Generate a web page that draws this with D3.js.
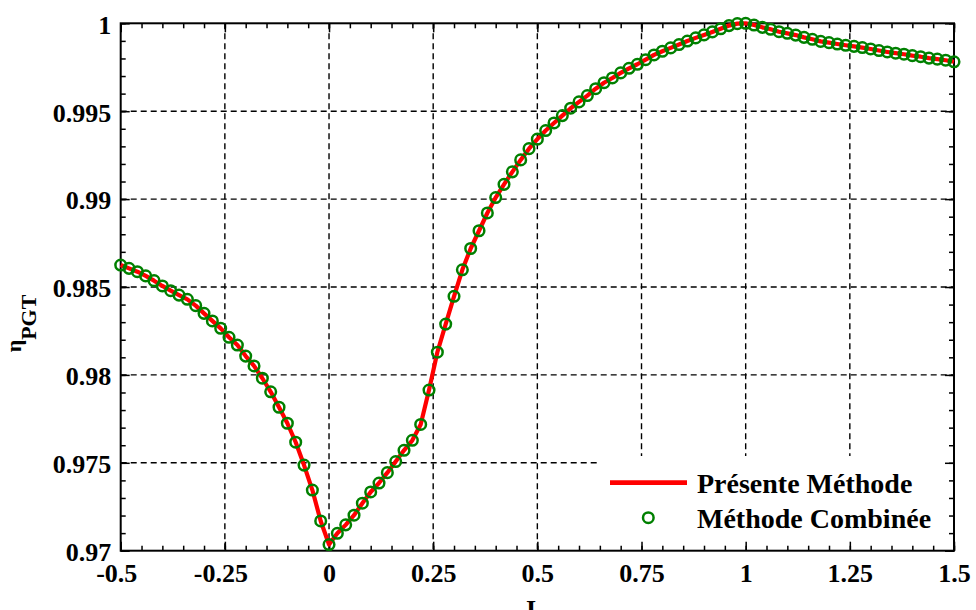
<!DOCTYPE html>
<html><head><meta charset="utf-8">
<script src="https://cdn.jsdelivr.net/npm/d3@7"></script>
<style>body{margin:0;background:#fff;} svg{display:block;} svg text{font-family:"Liberation Serif","Times New Roman",serif !important;font-weight:bold;fill:#000;}</style>
</head><body><svg id="chart" width="976" height="610"></svg>
<script>
// ---- data ----
const xValues = [
 -0.5,-0.48,-0.46,-0.44,-0.42,-0.4,-0.38,-0.36,-0.34,-0.32,-0.3,-0.28,-0.26,-0.24,-0.22,-0.2,-0.18,-0.16,-0.14,-0.12,-0.1,-0.08,-0.06,-0.04,-0.02,
 0,0.02,0.04,0.06,0.08,0.1,0.12,0.14,0.16,0.18,0.2,0.22,0.24,0.26,0.28,0.3,0.32,0.34,0.36,0.38,0.4,0.42,0.44,0.46,0.48,
 0.5,0.52,0.54,0.56,0.58,0.6,0.62,0.64,0.66,0.68,0.7,0.72,0.74,0.76,0.78,0.8,0.82,0.84,0.86,0.88,0.9,0.92,0.94,0.96,0.98,
 1,1.02,1.04,1.06,1.08,1.1,1.12,1.14,1.16,1.18,1.2,1.22,1.24,1.26,1.28,1.3,1.32,1.34,1.36,1.38,1.4,1.42,1.44,1.46,1.48,1.5
];
const presenteMethode = [
 0.98625,0.98606,0.98587,0.98563,0.98536,0.98506,0.98479,0.98454,0.98430,0.98394,0.98350,0.98307,0.98265,0.98214,0.98170,0.98107,0.98051,0.97981,0.97904,0.97816,0.97725,0.97617,0.97487,0.97345,0.97169,
 0.97035,0.97099,0.97147,0.97202,0.97270,0.97334,0.97385,0.97444,0.97507,0.97571,0.97628,0.97718,0.97914,0.98129,0.98289,0.98447,0.98598,0.98719,0.98820,0.98921,0.99009,0.99084,0.99155,0.99223,0.99287,
 0.99341,0.99390,0.99433,0.99475,0.99517,0.99553,0.99589,0.99628,0.99662,0.99689,0.99718,0.99744,0.99767,0.99793,0.99820,0.99841,0.99860,0.99879,0.99899,0.99917,0.99934,0.99951,0.99969,0.99987,0.99998,
 1.00000,0.99990,0.99977,0.99966,0.99952,0.99943,0.99933,0.99920,0.99909,0.99897,0.99890,0.99882,0.99875,0.99869,0.99862,0.99854,0.99845,0.99837,0.99830,0.99824,0.99816,0.99810,0.99802,0.99796,0.99790,0.99781
];
const methodeCombinee = [
 0.98625,0.98606,0.98587,0.98563,0.98536,0.98506,0.98479,0.98454,0.98430,0.98394,0.98350,0.98307,0.98265,0.98214,0.98170,0.98107,0.98051,0.97981,0.97904,0.97816,0.97725,0.97617,0.97487,0.97345,0.97169,
 0.97035,0.97099,0.97147,0.97202,0.97270,0.97334,0.97385,0.97444,0.97507,0.97571,0.97628,0.97718,0.97914,0.98129,0.98289,0.98447,0.98598,0.98719,0.98820,0.98921,0.99009,0.99084,0.99155,0.99223,0.99287,
 0.99341,0.99390,0.99433,0.99475,0.99517,0.99553,0.99589,0.99628,0.99662,0.99689,0.99718,0.99744,0.99767,0.99793,0.99820,0.99841,0.99860,0.99879,0.99899,0.99917,0.99934,0.99951,0.99969,0.99987,0.99998,
 1.00000,0.99990,0.99977,0.99966,0.99952,0.99943,0.99933,0.99920,0.99909,0.99897,0.99890,0.99882,0.99875,0.99869,0.99862,0.99854,0.99845,0.99837,0.99830,0.99824,0.99816,0.99810,0.99802,0.99796,0.99790,0.99781
];
const xTickValues = [-0.5,-0.25,0,0.25,0.5,0.75,1,1.25,1.5];
const xTickLabels = ["-0.5","-0.25","0","0.25","0.5","0.75","1","1.25","1.5"];
const yTickValues = [0.97,0.975,0.98,0.985,0.99,0.995,1];
const yTickLabels = ["0.97","0.975","0.98","0.985","0.99","0.995","1"];
const legendLabels = ["Présente Méthode","Méthode Combinée"];
const xAxisTitle = "I";
const yAxisTitle = ["η","PGT"];

// ---- layout ----
const L = 120.7, R = 954, T = 23.3, B = 550.7;
const svg = d3.select("#chart");
svg.append("rect").attr("width",976).attr("height",610).attr("fill","#fff");

const x = d3.scaleLinear().domain([-0.5,1.5]).range([L,R]);
const y = d3.scaleLinear().domain([0.97,1]).range([B,T]);

// grid
const gridX = xTickValues.slice(1,-1), gridY = yTickValues.slice(1,-1);
const grid = svg.append("g").attr("stroke","#000").attr("stroke-width",1.4).attr("stroke-dasharray","6,4");
grid.selectAll("line.gx").data(gridX).join("line").attr("class","gx")
  .attr("x1",d=>x(d)).attr("x2",d=>x(d)).attr("y1",T).attr("y2",B);
grid.selectAll("line.gy").data(gridY).join("line").attr("class","gy")
  .attr("x1",L).attr("x2",R).attr("y1",d=>y(d)).attr("y2",d=>y(d));

// legend background (hides grid)
svg.append("rect").attr("x",597).attr("y",456).attr("width",R-597).attr("height",B-456).attr("fill","#fff");

// minor / major ticks on all four sides (inward)
const xMinor = d3.range(-0.5,1.5001,0.05), yMinor = d3.range(0.97,1.00001,0.001);
function styleAxis(g){ g.select(".domain").remove(); g.selectAll(".tick line").attr("stroke","#000").attr("stroke-width",1.5); }
svg.append("g").attr("transform",`translate(0,${B})`).call(d3.axisBottom(x).tickValues(xMinor).tickSize(-5).tickFormat("")).call(styleAxis);
svg.append("g").attr("transform",`translate(0,${T})`).call(d3.axisTop(x).tickValues(xMinor).tickSize(-5).tickFormat("")).call(styleAxis);
svg.append("g").attr("transform",`translate(${L},0)`).call(d3.axisLeft(y).tickValues(yMinor).tickSize(-5).tickFormat("")).call(styleAxis);
svg.append("g").attr("transform",`translate(${R},0)`).call(d3.axisRight(y).tickValues(yMinor).tickSize(-5).tickFormat("")).call(styleAxis);

const xAx = svg.append("g").attr("transform",`translate(0,${B})`)
  .call(d3.axisBottom(x).tickValues(xTickValues).tickSize(-9).tickPadding(12.5).tickFormat((d,i)=>xTickLabels[i])).call(styleAxis);
xAx.selectAll("text").attr("font-size",26).attr("dx",d=>d<0?"-0.17em":0);
const yAx = svg.append("g").attr("transform",`translate(${L},0)`)
  .call(d3.axisLeft(y).tickValues(yTickValues).tickSize(-9).tickPadding(9.5).tickFormat((d,i)=>yTickLabels[i])).call(styleAxis);
yAx.selectAll("text").attr("font-size",26).attr("dy","0.38em");
svg.append("g").attr("transform",`translate(0,${T})`).call(d3.axisTop(x).tickValues(xTickValues).tickSize(-9).tickFormat("")).call(styleAxis);
svg.append("g").attr("transform",`translate(${R},0)`).call(d3.axisRight(y).tickValues(yTickValues).tickSize(-9).tickFormat("")).call(styleAxis);

// frame
svg.append("rect").attr("x",L).attr("y",T).attr("width",R-L).attr("height",B-T)
  .attr("fill","none").attr("stroke","#000").attr("stroke-width",2);

// data
const line = d3.line().x((d,i)=>x(xValues[i])).y(d=>y(d));
svg.append("path").datum(presenteMethode).attr("d",line).attr("fill","none")
  .attr("stroke","#ff0000").attr("stroke-width",4.2).attr("stroke-linejoin","round");
svg.append("g").selectAll("circle").data(methodeCombinee).join("circle")
  .attr("cx",(d,i)=>x(xValues[i])).attr("cy",d=>y(d)).attr("r",5.3)
  .attr("fill","none").attr("stroke","#008000").attr("stroke-width",2.5);

// legend
const lg = svg.append("g");
lg.append("line").attr("x1",610).attr("x2",687).attr("y1",482.7).attr("y2",482.7).attr("stroke","#ff0000").attr("stroke-width",4.8);
lg.append("circle").attr("cx",648.3).attr("cy",517.7).attr("r",5.3).attr("fill","none").attr("stroke","#008000").attr("stroke-width",2.5);
lg.selectAll("text").data(legendLabels).join("text")
  .attr("x",697).attr("y",(d,i)=>[493.3,527.7][i]).text(d=>d)
  .attr("font-size",28);

// axis titles
svg.append("text").attr("x",531).attr("y",618).attr("text-anchor","middle")
  .attr("font-size",26).text(xAxisTitle);
const yt = svg.append("text").attr("transform","translate(21,323.5) rotate(-90)").attr("text-anchor","middle");
yt.append("tspan").attr("font-size",22).text(yAxisTitle[0]);
yt.append("tspan").attr("font-size",22).attr("dy",15).text(yAxisTitle[1]);
</script></body></html>
